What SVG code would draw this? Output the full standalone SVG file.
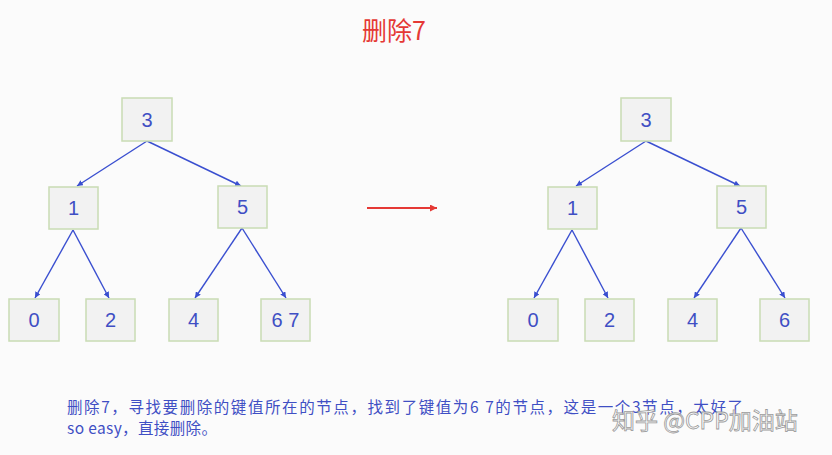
<svg xmlns="http://www.w3.org/2000/svg" width="832" height="455" viewBox="0 0 832 455">
<style>
.node rect{fill:#f2f2f2;stroke:#c9dcb4;stroke-width:1.5}
.node text{font-family:"Liberation Sans",Arial,sans-serif;font-size:20px;fill:#3f4fc4;text-anchor:middle}
.edge{stroke:#3a4fd0;stroke-width:1.4;fill:none;marker-end:url(#ah)}
.note{font-family:"Noto Sans CJK SC","Liberation Sans",sans-serif;font-size:15.5px;fill:#3f4fc4}
</style>
<defs>
<marker id="ah" viewBox="0 0 10 10" refX="10" refY="5" markerWidth="6" markerHeight="6" orient="auto" markerUnits="userSpaceOnUse">
<path d="M0,0 L10,5 L0,10 z" fill="#3a4fd0"/>
</marker>
<marker id="rh" viewBox="0 0 10 10" refX="10" refY="5" markerWidth="8" markerHeight="7" orient="auto" markerUnits="userSpaceOnUse">
<path d="M0,0 L10,5 L0,10 z" fill="#e53935"/>
</marker>
</defs>
<rect width="832" height="455" fill="#fbfbfb"/>
<text id="title" x="394" y="40" font-family="'Noto Sans CJK SC','Liberation Sans',sans-serif" font-size="25" fill="#e53935" text-anchor="middle">删除7</text>

<g id="connectors">
<line class="edge" x1="147" y1="141" x2="77" y2="186"/>
<line class="edge" x1="147" y1="141" x2="241" y2="186"/>
<line class="edge" x1="73" y1="230" x2="35" y2="298"/>
<line class="edge" x1="73" y1="230" x2="109" y2="298"/>
<line class="edge" x1="242" y1="228" x2="195" y2="298"/>
<line class="edge" x1="242" y1="228" x2="286" y2="298"/>
<line class="edge" x1="646" y1="141" x2="576" y2="186"/>
<line class="edge" x1="646" y1="141" x2="740" y2="186"/>
<line class="edge" x1="572" y1="230" x2="534" y2="298"/>
<line class="edge" x1="572" y1="230" x2="608" y2="298"/>
<line class="edge" x1="741" y1="228" x2="694" y2="298"/>
<line class="edge" x1="741" y1="228" x2="785" y2="298"/>
<line x1="367" y1="208" x2="437" y2="208" stroke="#e53935" stroke-width="2" marker-end="url(#rh)"/>
</g>

<g id="L3" class="node"><rect x="122" y="98" width="50" height="43"/><text x="147" y="127">3</text></g>
<g id="L1" class="node"><rect x="49" y="187" width="49" height="42"/><text x="73.5" y="215">1</text></g>
<g id="L5" class="node"><rect x="218" y="186" width="49" height="42"/><text x="242.5" y="214">5</text></g>
<g id="L0" class="node"><rect x="9" y="299" width="50" height="42"/><text x="34" y="327">0</text></g>
<g id="L2" class="node"><rect x="86" y="299" width="49" height="42"/><text x="110.5" y="327">2</text></g>
<g id="L4" class="node"><rect x="169" y="299" width="49" height="42"/><text x="193.5" y="327">4</text></g>
<g id="L67" class="node"><rect x="261" y="299" width="49" height="42"/><text x="285.5" y="327">6 7</text></g>

<g id="R3" class="node"><rect x="621" y="98" width="50" height="43"/><text x="646" y="127">3</text></g>
<g id="R1" class="node"><rect x="548" y="187" width="49" height="42"/><text x="572.5" y="215">1</text></g>
<g id="R5" class="node"><rect x="717" y="186" width="49" height="42"/><text x="741.5" y="214">5</text></g>
<g id="R0" class="node"><rect x="508" y="299" width="50" height="42"/><text x="533" y="327">0</text></g>
<g id="R2" class="node"><rect x="585" y="299" width="49" height="42"/><text x="609.5" y="327">2</text></g>
<g id="R4" class="node"><rect x="668" y="299" width="49" height="42"/><text x="692.5" y="327">4</text></g>
<g id="R6" class="node"><rect x="760" y="299" width="49" height="42"/><text x="784.5" y="327">6</text></g>

<text class="note" x="67" y="413" textLength="676" lengthAdjust="spacing">删除7，寻找要删除的键值所在的节点，找到了键值为6 7的节点，这是一个3节点，太好了</text>
<text class="note" x="67" y="434" textLength="150" lengthAdjust="spacing">so easy，直接删除。</text>

<text id="watermark" x="612" y="429" font-family="'Noto Sans CJK SC','Liberation Sans',sans-serif" font-size="23" fill="#ffffff" fill-opacity="0.85" stroke="#9a9a9a" stroke-width="0.8">知乎 @CPP加油站</text>
</svg>
